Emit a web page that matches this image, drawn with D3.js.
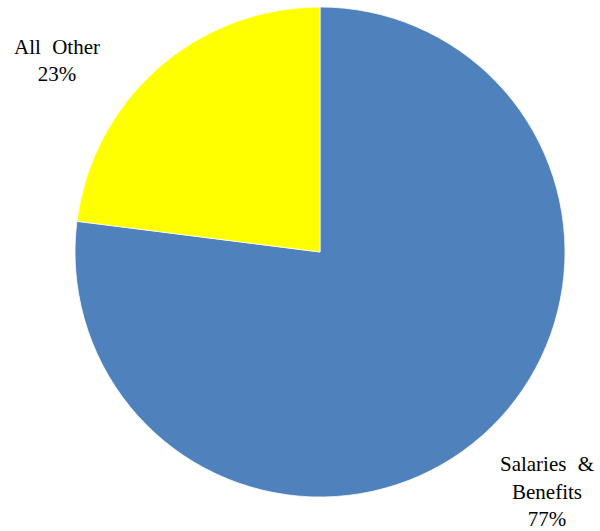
<!DOCTYPE html>
<html>
<head>
<meta charset="utf-8">
<script src="https://cdn.jsdelivr.net/npm/d3@7"></script>
<style>
  html, body { margin: 0; padding: 0; background: #fff; }
  svg { display: block; }
</style>
</head>
<body>
<script>
// Expense breakdown
const categories = ["Salaries & Benefits", "All Other"];
const values = [77, 23];
const colors = ["#4F81BD", "#FFFF00"];
const labelLines = [["Salaries &", "Benefits", "77%"], ["All Other", "23%"]];

const width = 600, height = 531;
const cx = 320, cy = 252, radius = 245;

const svg = d3.select("body").append("svg")
  .attr("width", width).attr("height", height);

const pie = d3.pie().sort(null).value(d => d)(values);
const arc = d3.arc().innerRadius(0).outerRadius(radius);

const g = svg.append("g").attr("transform", `translate(${cx},${cy})`);
g.selectAll("path").data(pie).join("path")
  .attr("d", arc)
  .attr("fill", (d, i) => colors[i])
  .attr("stroke", "#ffffff")
  .attr("stroke-width", 0.75);

// Labels placed outside the pie near each slice's edge
const labelPos = [
  { x: 547, y: 471, spacing: 27.5 },
  { x: 57, y: 54, spacing: 27 }
];
labelLines.forEach((lines, i) => {
  const t = svg.append("text")
    .attr("text-anchor", "middle")
    .attr("font-family", "'Liberation Serif', 'Times New Roman', serif")
    .attr("font-size", 21)
    .attr("word-spacing", 6)
    .attr("fill", "#000");
  lines.forEach((ln, j) => {
    t.append("tspan")
      .attr("x", labelPos[i].x)
      .attr("y", labelPos[i].y + j * labelPos[i].spacing)
      .text(ln);
  });
});
</script>
</body>
</html>
